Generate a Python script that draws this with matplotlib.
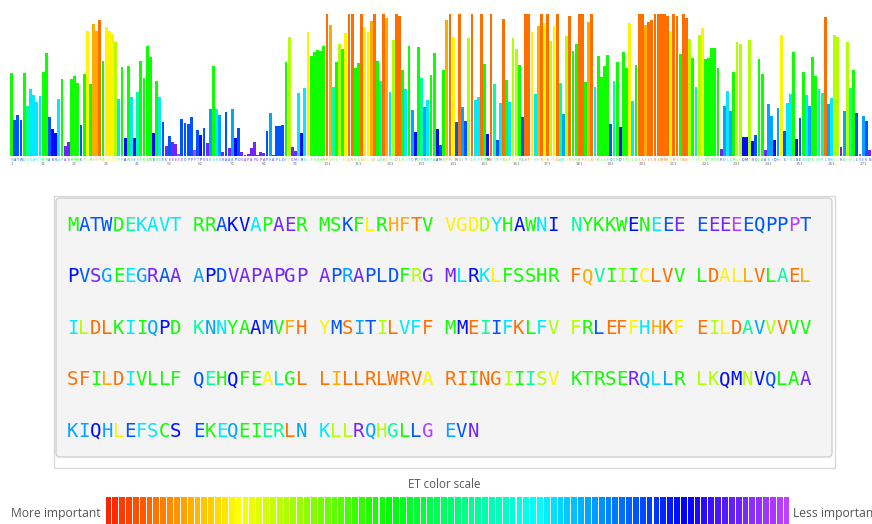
import numpy as np
import matplotlib
matplotlib.use("Agg")
import matplotlib.pyplot as plt
from matplotlib.colors import ListedColormap, hsv_to_rgb
from matplotlib.patches import FancyBboxPatch, Rectangle

sequence = ("MATWDEKAVTRRAKVAPAERMSKFLRHFTVVGDDYHAWNINYKKWENEEEEEEEEQPPPT"
            "PVSGEEGRAAAPDVAPAPGPAPRAPLDFRGMLRKLFSSHRFQVIIICLVVLDALLVLAEL"
            "ILDLKIIQPDKNNYAAMVFHYMSITILVFFMMEIIFKLFVFRLEFFHHKFEILDAVVVVV"
            "SFILDIVLLFQEHQFEALGLLILLRLWRVARIINGIIISVKTRSERQLLRLKQMNVQLAA"
            "KIQHLEFSCSEKEQEIERLNKLLRQHGLLGEVN")

# per-residue score (bar height)
heights = [
    82, 36, 41, 36, 82, 50, 67, 61, 54, 60,
    83, 102, 39, 27, 23, 57, 76, 10, 14, 76,
    79, 72, 31, 81, 124, 71, 131, 124, 135, 94,
    128, 124, 121, 113, 57, 88, 18, 89, 59, 18,
    64, 94, 77, 109, 98, 23, 74, 59, 34, 10,
    20, 14, 12, 2, 37, 33, 32, 39, 6, 26,
    21, 28, 13, 47, 89, 47, 41, 4, 44, 8,
    47, 18, 28, 4, 1, 2, 8, 14, 1, 4,
    3, 25, 43, 1, 30, 30, 31, 93, 118, 9,
    5, 63, 23, 68, 123, 99, 103, 105, 104, 109,
    141, 130, 69, 93, 111, 106, 122, 141, 141, 87,
    92, 141, 128, 123, 134, 141, 94, 74, 141, 137,
    64, 115, 141, 139, 85, 67, 109, 46, 24, 108,
    77, 49, 56, 80, 102, 27, 11, 85, 135, 141,
    118, 34, 141, 49, 35, 117, 141, 56, 59, 141,
    91, 22, 141, 71, 16, 53, 136, 75, 54, 117,
    106, 90, 39, 141, 141, 123, 62, 129, 141, 132,
    141, 114, 129, 141, 72, 42, 119, 139, 104, 111,
    141, 141, 73, 133, 141, 69, 99, 78, 89, 100,
    32, 74, 93, 29, 103, 87, 132, 55, 90, 141,
    141, 130, 133, 135, 141, 141, 141, 141, 139, 124,
    141, 139, 101, 141, 137, 116, 97, 69, 120, 127,
    96, 97, 107, 107, 87, 7, 50, 65, 45, 83,
    113, 111, 19, 19, 115, 15, 21, 96, 81, 6,
    52, 40, 16, 48, 120, 25, 53, 62, 103, 17,
    38, 83, 61, 50, 98, 79, 67, 63, 138, 52,
    58, 120, 118, 9, 45, 113, 68, 85, 43, 2,
    40, 35, 6,
]

# per-residue ET rank, percent (0 = most important)
ranks = [
    40, 78, 78, 78, 40, 55, 65, 65, 65, 65,
    40, 40, 78, 84, 84, 65, 40, 93, 93, 40,
    40, 40, 78, 40, 18, 40, 12, 12, 7, 40,
    18, 18, 18, 26, 65, 40, 84, 40, 65, 84,
    55, 40, 40, 40, 40, 84, 40, 65, 78, 93,
    78, 93, 93, 99, 78, 78, 78, 78, 99, 78,
    84, 78, 93, 71, 40, 65, 71, 93, 78, 93,
    71, 84, 78, 93, 93, 93, 93, 93, 93, 93,
    93, 78, 71, 93, 78, 78, 78, 40, 26, 93,
    93, 65, 84, 65, 18, 40, 40, 40, 40, 40,
    7, 12, 55, 40, 26, 40, 18, 7, 7, 40,
    40, 7, 18, 18, 12, 7, 40, 55, 7, 12,
    65, 26, 7, 7, 40, 65, 40, 71, 84, 40,
    55, 71, 65, 40, 40, 84, 78, 40, 12, 7,
    18, 78, 7, 71, 78, 26, 7, 65, 65, 7,
    40, 84, 7, 55, 78, 65, 7, 40, 65, 26,
    26, 40, 78, 7, 7, 18, 65, 12, 7, 18,
    7, 26, 18, 7, 55, 71, 26, 7, 40, 40,
    7, 7, 40, 12, 7, 65, 40, 40, 40, 40,
    78, 55, 40, 84, 40, 40, 18, 65, 40, 7,
    7, 12, 7, 7, 7, 7, 7, 7, 7, 18,
    7, 7, 40, 7, 7, 26, 40, 55, 26, 18,
    40, 40, 40, 40, 40, 93, 71, 65, 71, 40,
    26, 26, 84, 84, 26, 84, 78, 40, 40, 93,
    71, 71, 84, 71, 18, 78, 65, 65, 40, 84,
    78, 40, 65, 71, 40, 40, 55, 55, 7, 71,
    65, 26, 26, 93, 71, 26, 55, 40, 78, 99,
    71, 78, 93,
]

tick_labels = [str(n) for n in range(1, len(sequence) + 1, 10)]
n_scale = 100

# ET rainbow: red (important) -> violet (unimportant)
t = np.linspace(0, 1, 256)
hue = (8 + 272 * t) / 360
sat = np.where(t < 0.85, 1.0, 1.0 - (t - 0.85) / 0.15 * 0.25)
et_cmap = ListedColormap(hsv_to_rgb(np.column_stack([hue, sat, np.ones_like(t)])))
colors = et_cmap(np.array(ranks) / 100)

W, H = 872, 524
fig = plt.figure(figsize=(W / 100, H / 100), dpi=100)

# bar chart of scores
ax = fig.add_axes([10 / W, 1 - 156 / H, 861 / W, 142 / H])
pos = np.arange(1, len(sequence) + 1)
ax.bar(pos, heights, width=0.88, color=colors, linewidth=0)
ax.set_xlim(0.5, len(sequence) + 0.5)
ax.set_ylim(0, 141)
for s in ax.spines.values():
    s.set_visible(False)
ax.set_yticks([])
ax.set_xticks(pos[::10])
ax.set_xticklabels(tick_labels, fontsize=3, color="#777777")
ax.tick_params(axis="x", length=0, pad=4.2)
for i, aa in enumerate(sequence):
    ax.text(i + 1, -0.012, aa, transform=ax.get_xaxis_transform(),
            fontsize=2.3, color=colors[i], ha="center", va="top")

# overlay in pixel coordinates for the sequence panel and scale
ov = fig.add_axes([0, 0, 1, 1])
ov.set_xlim(0, W)
ov.set_ylim(H, 0)
ov.axis("off")

ov.add_patch(Rectangle((54, 196), 781, 272, fill=False, ec="#d9d9d9", lw=1))
ov.add_patch(FancyBboxPatch((56, 198), 776, 259,
                            boxstyle="round,pad=0,rounding_size=4",
                            fc="#f4f4f4", ec="#d0d0d0", lw=1))

char_w = 11.44
for k, aa in enumerate(sequence):
    row, col = divmod(k, 60)
    x = 67 + (col + col // 10) * char_w
    y = 230.8 + row * 51.5
    ov.text(x, y, aa, fontsize=13.7, family="DejaVu Sans Mono",
            color=colors[k], ha="left", va="baseline")

# color scale
ov.text(444, 485, "ET color scale", ha="center", va="center",
        fontsize=8.3, color="#555555", family="Open Sans")
cell_w = 685 / n_scale
steps = np.linspace(0, 1, n_scale)
ov.bar(105 + (np.arange(n_scale) + 0.5) * cell_w, 30, bottom=497,
       width=cell_w * 0.84, color=et_cmap(steps), linewidth=0)
ov.text(101, 514, "More important", ha="right", va="center",
        fontsize=8.7, color="#555555", family="Open Sans")
ov.text(793, 514, "Less important", ha="left", va="center",
        fontsize=8.7, color="#555555", family="Open Sans")

fig.savefig("out.png", dpi=100)
